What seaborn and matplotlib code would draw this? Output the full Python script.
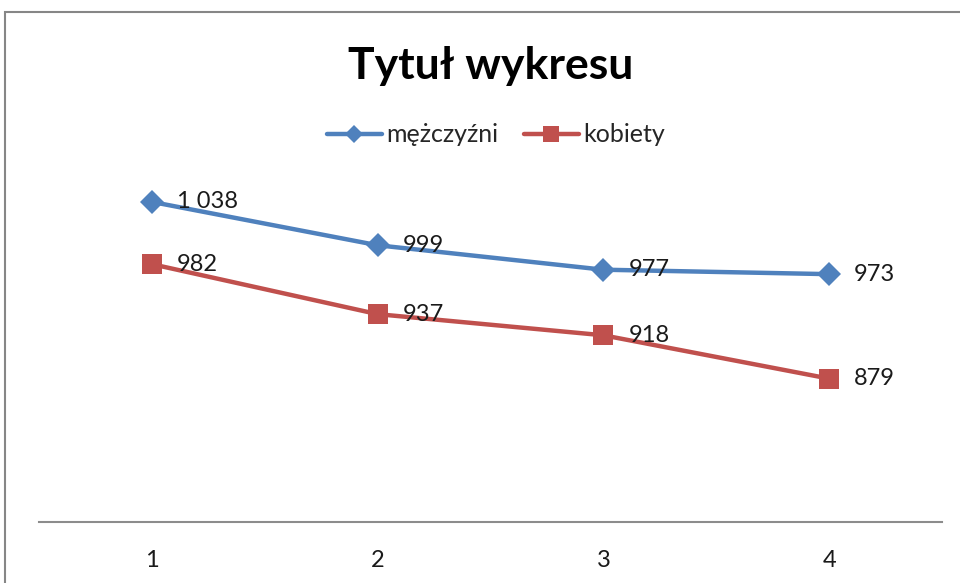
import pandas as pd
import numpy as np
import seaborn as sns
import matplotlib.pyplot as plt
from matplotlib.patches import Rectangle

# dane z wykresu
okresy = [1, 2, 3, 4]
mezczyzni = [1038, 999, 977, 973]
kobiety = [982, 937, 918, 879]
etykiety_m = ['1 038', '999', '977', '973']
etykiety_k = ['982', '937', '918', '879']
serie = ['mężczyźni', 'kobiety']

df = pd.DataFrame({
	'okres': okresy * 2,
	'wartosc': mezczyzni + kobiety,
	'seria': [serie[0]] * 4 + [serie[1]] * 4,
})

sns.set_theme(style='white')
plt.rcParams['font.family'] = ['Lato', 'DejaVu Sans']

fig = plt.figure(figsize=(9.6, 5.83), dpi=100)
ax = fig.add_axes([39 / 960, 61 / 583, (942 - 39) / 960, (522 - 133) / 583])

kolory = {'mężczyźni': '#4F81BD', 'kobiety': '#C0504D'}
sns.lineplot(
	data=df, x='okres', y='wartosc', hue='seria', style='seria',
	palette=kolory, markers={'mężczyźni': 'D', 'kobiety': 's'}, dashes=False,
	linewidth=3.2, markersize=12, markeredgewidth=0, ax=ax
)
# kwadraty troche wieksze
for ln in ax.lines:
	if ln.get_marker() == 's':
		ln.set_markersize(15)

# etykiety danych
for x, y, t in zip(okresy, mezczyzni, etykiety_m):
	ax.annotate(t, (x, y), xytext=(18, 0), textcoords='offset points',
		ha='left', va='center', fontsize=17, color='#1a1a1a')
for x, y, t in zip(okresy, kobiety, etykiety_k):
	ax.annotate(t, (x, y), xytext=(18, 0), textcoords='offset points',
		ha='left', va='center', fontsize=17, color='#1a1a1a')

ax.set_xlim(0.5, 4.5)
ax.set_ylim(750, 1100)
ax.set_xticks(okresy)
ax.set_xticklabels([str(o) for o in okresy], fontsize=17, color='#1a1a1a')
ax.set_yticks([])
ax.tick_params(axis='x', length=0, pad=20)
ax.set_xlabel('')
ax.set_ylabel('')
for s in ['top', 'right', 'left']:
	ax.spines[s].set_visible(False)
ax.spines['bottom'].set_color('#8c8c8c')
ax.spines['bottom'].set_linewidth(1.5)

h, l = ax.get_legend_handles_labels()
leg = ax.legend(h, l, loc='center', bbox_to_anchor=(496 / 960, 1 - 135 / 583),
	bbox_transform=fig.transFigure, ncol=2, frameon=False, fontsize=18,
	markerscale=0.8, handlelength=2.2, columnspacing=1.0, handletextpad=0.2)

fig.text(491 / 960, 1 - 66 / 583, 'Tytuł wykresu', ha='center', va='center',
	fontsize=32, fontweight='bold', color='black')

# ramka obszaru wykresu
fig.patches.append(Rectangle((5 / 960, -0.1), 2, 1.1 - 12 / 583, transform=fig.transFigure,
	fill=False, edgecolor='#868686', linewidth=1.5))

fig.savefig('out.png', dpi=100)
